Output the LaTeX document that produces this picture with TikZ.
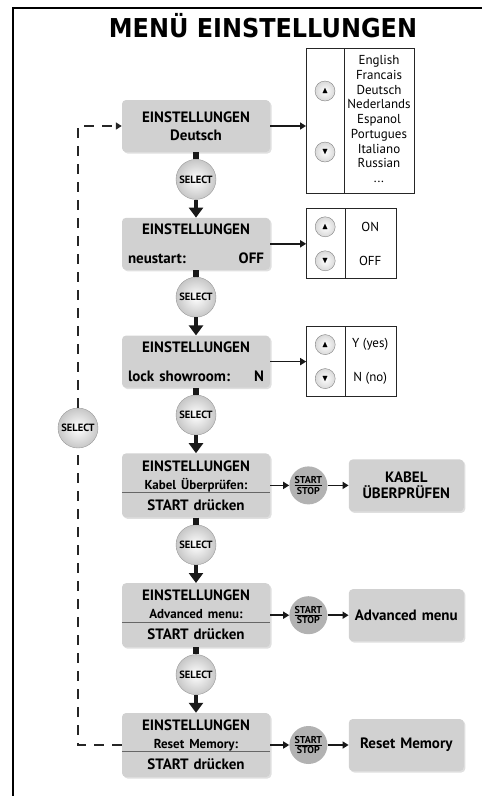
\documentclass[tikz,border=0pt]{standalone}
\usepackage{amssymb}
\usepackage{fontspec}
\setmainfont{PT Sans}
\newfontfamily\titlefont[FakeStretch=0.92]{DejaVu Sans}
\usetikzlibrary{positioning,arrows.meta,shadows,calc}

\begin{document}
\begin{tikzpicture}[
    x=1pt, y=-1pt,
    font=\fontsize{13}{14.75}\selectfont,
    menu/.style={fill=black!18, rounded corners=4pt, align=center,
                 text width=136pt, inner xsep=6pt, inner ysep=0pt, minimum height=52pt,
                 font=\fontsize{15}{18}\selectfont\bfseries,
                 drop shadow={opacity=0.25,shadow xshift=1.5pt,shadow yshift=-1.5pt}},
    menuthree/.style={menu, minimum height=64pt},
    result/.style={menu, text width=109pt, inner xsep=3pt, font=\fontsize{15}{16}\selectfont\bfseries},
    selbtn/.style={circle, draw=black!40, minimum size=40pt, inner sep=0pt,
                   inner color=white, outer color=black!22,
                   font=\fontsize{10.5}{11}\selectfont\bfseries},
    startbtn/.style={circle, fill=black!30, minimum size=38pt, inner sep=0pt, align=center,
                     font=\fontsize{10}{10.5}\selectfont\bfseries},
    arrowbtn/.style={circle, draw=black!50, minimum size=20pt, inner sep=0pt,
                     inner color=white, outer color=black!15, font=\fontsize{9}{9}\selectfont},
    optbox/.style={draw=black!85, line width=1pt, fill=white},
    optline/.style={draw=black!85, line width=0.8pt},
    divider/.style={draw=black!60, line width=0.8pt},
    stub/.style={line width=6pt, black!90},
    down/.style={-{Triangle[width=14pt,length=10pt]}, line width=4pt, black!90},
    link/.style={-{Triangle[width=7pt,length=6pt]}, line width=1.6pt, black!90},
    back/.style={line width=2pt, black!85, dash pattern=on 10pt off 8pt},
]
\useasboundingbox (0,0) rectangle (482,796);

% ---- Frame + title ------------------------------------------------
\draw[line width=2.5pt] (13,796) -- (13,8) -- (482,8);
\node[anchor=base, font=\titlefont\fontsize{26}{28}\selectfont\bfseries] (title) at (263,37) {MENÜ EINSTELLUNGEN};

% ---- Menu chain ---------------------------------------------------
\node[menu] (m1) at (196,126) {EINSTELLUNGEN\\Deutsch};
\node[selbtn, below=7pt of m1] (s1) {SELECT};
\node[menu, below=18pt of s1] (m2) {EINSTELLUNGEN\\[11pt]neustart:\hfill OFF};
\node[selbtn, below=7pt of m2] (s2) {SELECT};
\node[menu, below=18pt of s2] (m3) {EINSTELLUNGEN\\[11pt]lock showroom:\hfill N};
\node[selbtn, below=7pt of m3] (s3) {SELECT};
\node[menuthree, below=18pt of s3] (m4) {EINSTELLUNGEN\\{\fontsize{13}{14}\selectfont Kabel Überprüfen:}\\[3pt]START drücken};
\node[selbtn, below=7pt of m4] (s4) {SELECT};
\node[menuthree, below=18pt of s4] (m5) {EINSTELLUNGEN\\{\fontsize{13}{14}\selectfont Advanced menu:}\\[3pt]START drücken};
\node[selbtn, below=7pt of m5] (s5) {SELECT};
\node[menuthree, below=18pt of s5] (m6) {EINSTELLUNGEN\\{\fontsize{13}{14}\selectfont Reset Memory:}\\[3pt]START drücken};

\foreach \m in {m4,m5,m6}
    \draw[divider] ($(\m.north west)+(0,39)$) -- ($(\m.north east)+(0,39)$);

% ---- Start/stop + results -----------------------------------------
\node[startbtn, right=19pt of m4] (st1) {\underline{START}\\STOP};
\node[result, right=21pt of st1] (r1) {KABEL\\ÜBERPRÜFEN};
\node[startbtn, right=19pt of m5] (st2) {\underline{START}\\STOP};
\node[result, right=21pt of st2] (r2) {Advanced menu};
\node[startbtn, right=19pt of m6] (st3) {\underline{START}\\STOP};
\node[result, right=21pt of st3] (r3) {Reset Memory};

% ---- Option lists -------------------------------------------------
\node[optbox, minimum width=108pt, minimum height=145pt, anchor=north west] (lang) at (306,48) {};
\draw[optline] ($(lang.north west)+(38,0)$) -- ($(lang.south west)+(38,0)$);
\node[arrowbtn] (langup) at ($(lang.north west)+(19,43)$) {$\blacktriangle$};
\node[arrowbtn] (langdn) at ($(lang.north west)+(19,104)$) {$\blacktriangledown$};
\node[align=center] (langlist) at ($(lang.north west)+(73,71)$)
    {English\\Francais\\Deutsch\\Nederlands\\Espanol\\Portugues\\Italiano\\Russian\\...};

\node[optbox, minimum width=90pt, minimum height=70pt, right=36pt of m2] (onoff) {};
\draw[optline] ($(onoff.north west)+(39,0)$) -- ($(onoff.south west)+(39,0)$);
\node[arrowbtn] (onoffup) at ($(onoff.west)+(19,-17)$) {$\blacktriangle$};
\node[arrowbtn] (onoffdn) at ($(onoff.west)+(19,17)$) {$\blacktriangledown$};
\node (on) at ($(onoff.west)+(64,-17)$) {ON};
\node (off) at ($(onoff.west)+(64,17)$) {OFF};

\node[optbox, minimum width=90pt, minimum height=70pt, right=36pt of m3] (yn) {};
\draw[optline] ($(yn.north west)+(39,0)$) -- ($(yn.south west)+(39,0)$);
\node[arrowbtn] (ynup) at ($(yn.west)+(19,-17)$) {$\blacktriangle$};
\node[arrowbtn] (yndn) at ($(yn.west)+(19,17)$) {$\blacktriangledown$};
\node (yes) at ($(yn.west)+(64,-17)$) {Y (yes)};
\node (no) at ($(yn.west)+(64,17)$) {N (no)};

% ---- Return loop --------------------------------------------------
\node[selbtn] (sL) at (78,428) {SELECT};

% ---- Edges --------------------------------------------------------
\draw[stub] (m1) -- (s1);
\draw[down] (s1) -- (m2);
\draw[stub] (m2) -- (s2);
\draw[down] (s2) -- (m3);
\draw[stub] (m3) -- (s3);
\draw[down] (s3) -- (m4);
\draw[stub] (m4) -- (s4);
\draw[down] (s4) -- (m5);
\draw[stub] (m5) -- (s5);
\draw[down] (s5) -- (m6);

\draw[link] (m1.east) -- (m1.east -| lang.west);
\draw[link] (m2) -- (onoff);
\draw[link] (m3) -- (yn);
\draw[link] (m4) -- (st1);
\draw[link] (st1) -- (r1);
\draw[link] (m5) -- (st2);
\draw[link] (st2) -- (r2);
\draw[link] (m6) -- (st3);
\draw[link] (st3) -- (r3);

\draw[back] (m6.west) -| (sL.south);
\draw[back, -{Triangle[width=7pt,length=6pt]}] (sL.north) |- (m1.west);

\end{tikzpicture}
\end{document}
